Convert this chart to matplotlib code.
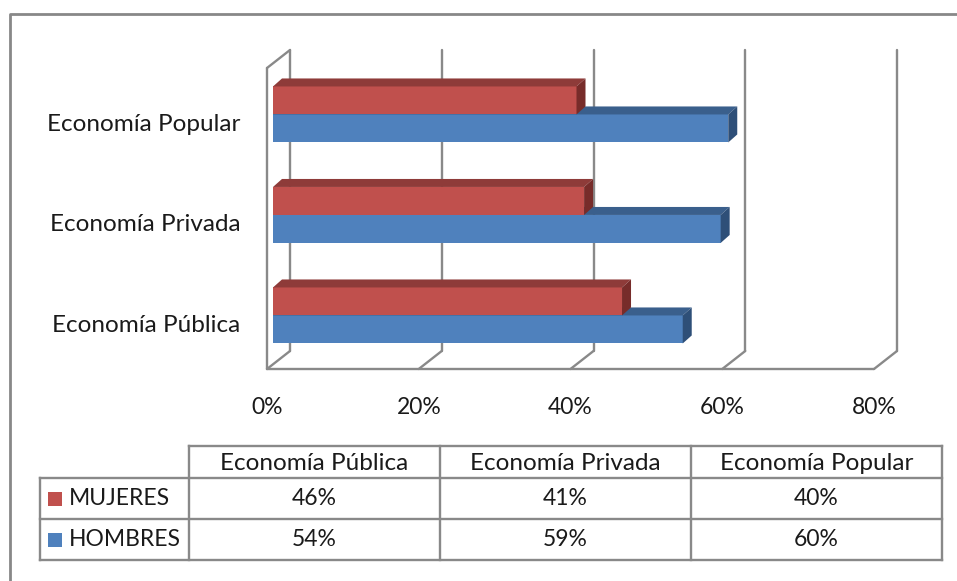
import matplotlib
matplotlib.use("Agg")
import matplotlib.pyplot as plt
from matplotlib.patches import Polygon, Rectangle

plt.rcParams['font.family'] = ['Lato', 'DejaVu Sans']

categorias = ["Economía Pública", "Economía Privada", "Economía Popular"]
mujeres = [46, 41, 40]
hombres = [54, 59, 60]
series = ["MUJERES", "HOMBRES"]
ticks = [0, 20, 40, 60, 80]

ROJO = ("#C0504D", "#8E3B39", "#772C2A")   # front, top, side
AZUL = ("#4F81BD", "#3A5F8C", "#2E4F78")
GRIS = "#898989"
TEXTO = "#1A1A1A"
FS_CAT = 17.5
FS_NUM = 16.5

W, H = 957, 581
fig = plt.figure(figsize=(W / 100, H / 100), dpi=100)
fig.patch.set_facecolor("white")

# background layer in pixel coordinates: outer frame and data table
bg = fig.add_axes([0, 0, 1, 1])
bg.set_xlim(0, W)
bg.set_ylim(H, 0)
bg.axis("off")
bg.plot([10, 10, W], [H, 14, 14], color="#888888", lw=2, solid_capstyle="butt")

# front plane of the 3d plot
x0, x1 = 267, 874
yb, yt = 369, 68
ax = fig.add_axes([x0 / W, (H - yb) / H, (x1 - x0) / W, (yb - yt) / H])
ax.set_xlim(0, 80)
ax.set_ylim(-0.483, 2.512)
ax.patch.set_visible(False)
for s in ax.spines.values():
    s.set_visible(False)

px_x = (x1 - x0) / 80.0
px_y = (yb - yt) / (2.512 + 0.483)
DX, DY = 23 / px_x, 18 / px_y       # wall depth
bx, by = 6 / px_x, 5 / px_y         # bar set-back from the front
bdx, bdy = 9 / px_x, 8 / px_y       # bar depth
ylo, yhi = ax.get_ylim()

# walls and gridlines
kw = dict(color=GRIS, lw=1.7, clip_on=False, zorder=1, solid_capstyle="round")
for t in ticks:
    ax.plot([t + DX, t + DX], [ylo + DY, yhi + DY], **kw)
    ax.plot([t, t + DX], [ylo, ylo + DY], **kw)
ax.plot([0, 80], [ylo, ylo], **kw)
ax.plot([0, 0], [ylo, yhi], **kw)
ax.plot([0, DX], [yhi, yhi + DY], **kw)

h = 28 / px_y


def barra(y, v, colores, z):
    front, top, side = colores
    ax.barh(y + h / 2 + by, v, left=bx, height=h, color=front, zorder=z, clip_on=False)
    yt_ = y + h + by
    yb_ = y + by
    xr = bx + v
    ax.add_patch(Polygon([(bx, yt_), (xr, yt_), (xr + bdx, yt_ + bdy), (bx + bdx, yt_ + bdy)],
                         closed=True, facecolor=top, edgecolor="none", zorder=z, clip_on=False))
    ax.add_patch(Polygon([(xr, yb_), (xr, yt_), (xr + bdx, yt_ + bdy), (xr + bdx, yb_ + bdy)],
                         closed=True, facecolor=side, edgecolor="none", zorder=z, clip_on=False))


for i in range(len(categorias)):
    barra(i - h, hombres[i], AZUL, 2 + 2 * i)
    barra(i, mujeres[i], ROJO, 3 + 2 * i)

ax.set_yticks([i - 0.03 for i in range(len(categorias))])
ax.set_yticklabels(categorias, fontsize=FS_CAT, color=TEXTO)
ax.set_xticks(ticks)
ax.set_xticklabels([f"{t}%" for t in ticks], fontsize=FS_NUM, color=TEXTO)
ax.tick_params(axis="y", length=0, pad=19)
ax.tick_params(axis="x", length=0, pad=20)

# data table
cols = [40, 189, 440, 691, 942]
rows = [446, 478, 519, 560]
tk = dict(color=GRIS, lw=1.7, solid_capstyle="projecting")
bg.plot([cols[1], cols[-1]], [rows[0], rows[0]], **tk)
for r in rows[1:]:
    bg.plot([cols[0], cols[-1]], [r, r], **tk)
bg.plot([cols[0], cols[0]], [rows[1], rows[-1]], **tk)
for c in cols[1:]:
    bg.plot([c, c], [rows[0], rows[-1]], **tk)

centros = [(cols[j] + cols[j + 1]) / 2 for j in range(1, 4)]
for j, cat in enumerate(categorias):
    bg.text(centros[j], (rows[0] + rows[1]) / 2 + 1, cat, ha="center", va="center",
            fontsize=FS_CAT, color=TEXTO)

for k, (nombre, vals, col) in enumerate([(series[0], mujeres, ROJO[0]),
                                         (series[1], hombres, AZUL[0])]):
    yc = (rows[k + 1] + rows[k + 2]) / 2
    bg.add_patch(Rectangle((48, yc - 7), 14, 14, facecolor=col, edgecolor="none"))
    bg.text(69, yc, nombre, ha="left", va="center", fontsize=FS_NUM, color=TEXTO)
    for j, v in enumerate(vals):
        bg.text(centros[j], yc, f"{v}%", ha="center", va="center", fontsize=FS_NUM, color=TEXTO)

fig.savefig("out.png", dpi=100)
